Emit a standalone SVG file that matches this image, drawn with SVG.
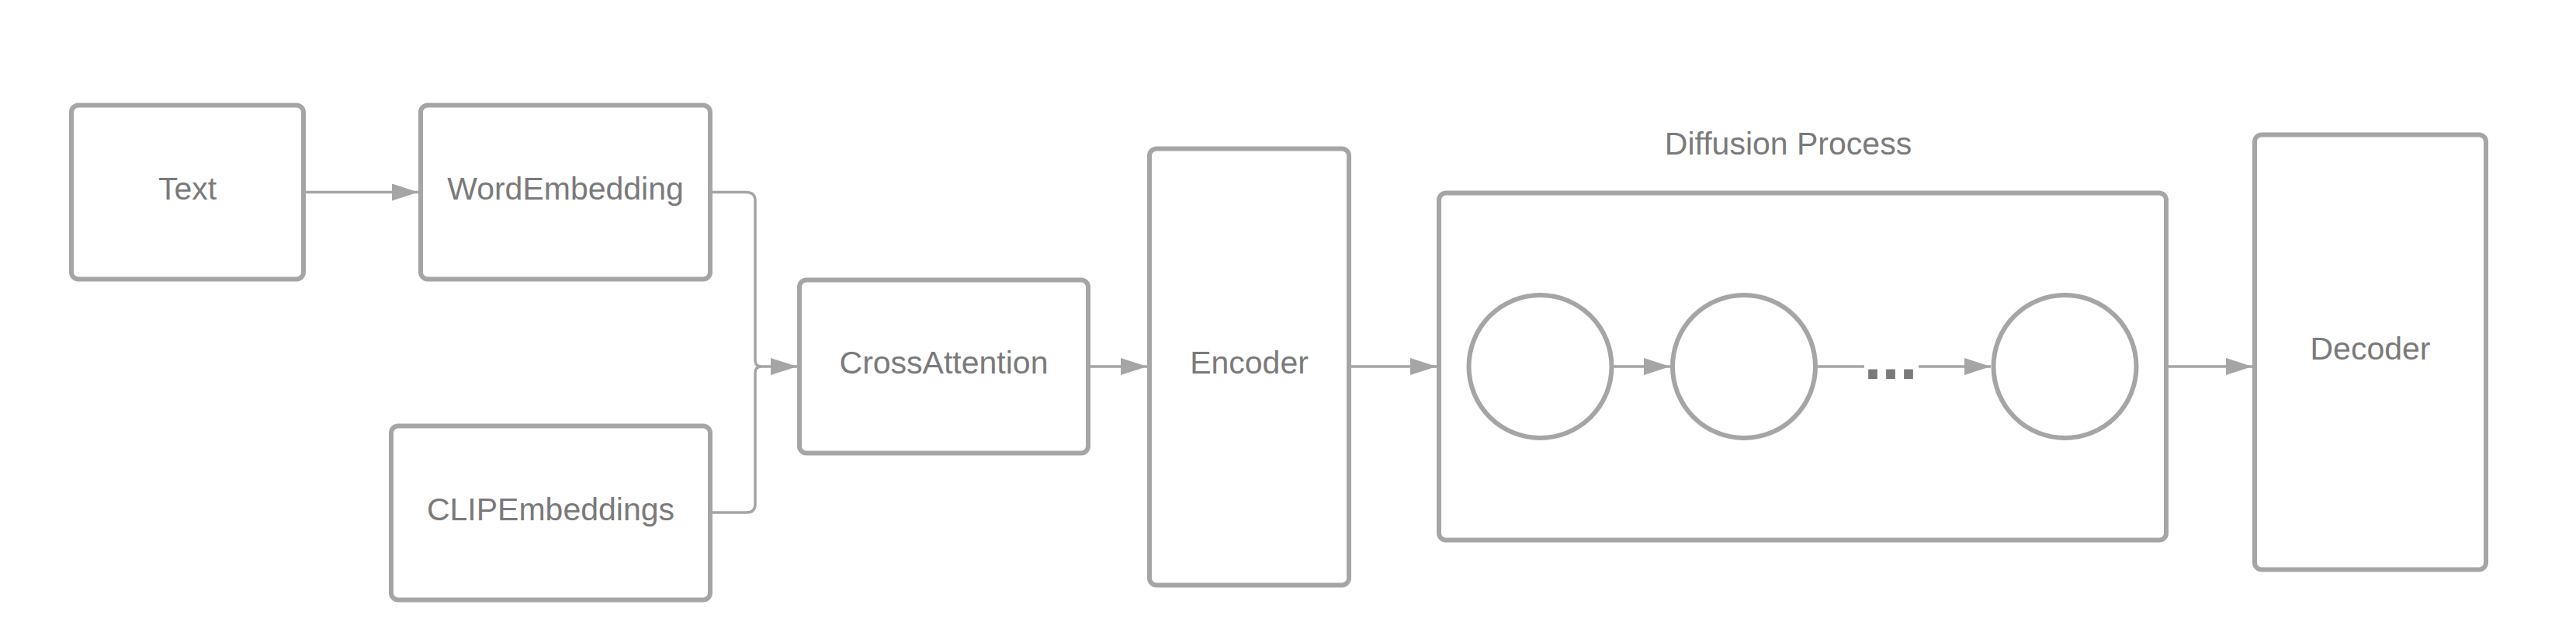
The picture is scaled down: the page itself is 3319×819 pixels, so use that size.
<svg xmlns="http://www.w3.org/2000/svg" width="3319" height="819" viewBox="0 0 3319 819">
<defs>
<style>
.box{fill:#ffffff;stroke:#a5a5a5;stroke-width:6}
.conn{fill:none;stroke:#a5a5a5;stroke-width:3.5}
.lbl{font-family:"Liberation Sans",Arial,sans-serif;font-size:41px;fill:#7a7a7a;text-anchor:middle}
.dots{font-family:"Liberation Sans",Arial,sans-serif;font-size:83px;font-weight:bold;fill:#7a7a7a;text-anchor:middle}
</style>
<marker id="arr" viewBox="0 0 34 22" refX="34" refY="11" markerWidth="34" markerHeight="22" markerUnits="userSpaceOnUse" orient="auto">
<path d="M0,0 L34,11 L0,22 z" fill="#a5a5a5"/>
</marker>
</defs>
<rect width="3319" height="819" fill="#ffffff"/>
<g id="text-node">
<rect class="box" x="92" y="135.5" width="299" height="224" rx="9"/>
<text class="lbl" x="241.5" y="257">Text</text>
</g>
<g id="word-embedding">
<rect class="box" x="542" y="135.5" width="373" height="224" rx="9"/>
<text class="lbl" x="728.5" y="257">WordEmbedding</text>
</g>
<g id="clip-embeddings">
<rect class="box" x="504" y="548.5" width="411" height="224" rx="9"/>
<text class="lbl" x="709.5" y="670">CLIPEmbeddings</text>
</g>
<g id="cross-attention">
<rect class="box" x="1030" y="360.5" width="372" height="223" rx="9"/>
<text class="lbl" x="1216" y="481">CrossAttention</text>
</g>
<g id="encoder">
<rect class="box" x="1481" y="191.5" width="257" height="562" rx="9"/>
<text class="lbl" x="1609.5" y="481">Encoder</text>
</g>
<g id="diffusion-process">
<rect class="box" x="1854" y="248.5" width="937" height="447" rx="9"/>
<text class="lbl" x="2304" y="199">Diffusion Process</text>
</g>
<g id="step-1">
<circle class="box" cx="1984.5" cy="472" r="92"/>
</g>
<g id="step-2">
<circle class="box" cx="2247" cy="472" r="92"/>
</g>
<g id="step-n">
<circle class="box" cx="2660.5" cy="472" r="92"/>
</g>
<g id="decoder">
<rect class="box" x="2905" y="173.5" width="298" height="560" rx="9"/>
<text class="lbl" x="3054" y="463">Decoder</text>
</g>
<g id="connectors">
<path class="conn" d="M394 247.5 H539" marker-end="url(#arr)"/>
<path class="conn" d="M918 247.5 H962 Q973 247.5 973 258.5 V464 Q973 472 981 472 H1027" marker-end="url(#arr)"/>
<path class="conn" d="M918 660 H962 Q973 660 973 649 V480 Q973 472 981 472"/>
<path class="conn" d="M1405 472 H1478" marker-end="url(#arr)"/>
<path class="conn" d="M1741 472 H1851" marker-end="url(#arr)"/>
<path class="conn" d="M2079 472 H2152" marker-end="url(#arr)"/>
<path class="conn" d="M2342 472 H2402 M2472 472 H2565" marker-end="url(#arr)"/>
<path class="conn" d="M2794 472 H2902" marker-end="url(#arr)"/>
<text class="dots" x="2436" y="488">...</text>
</g>
</svg>
